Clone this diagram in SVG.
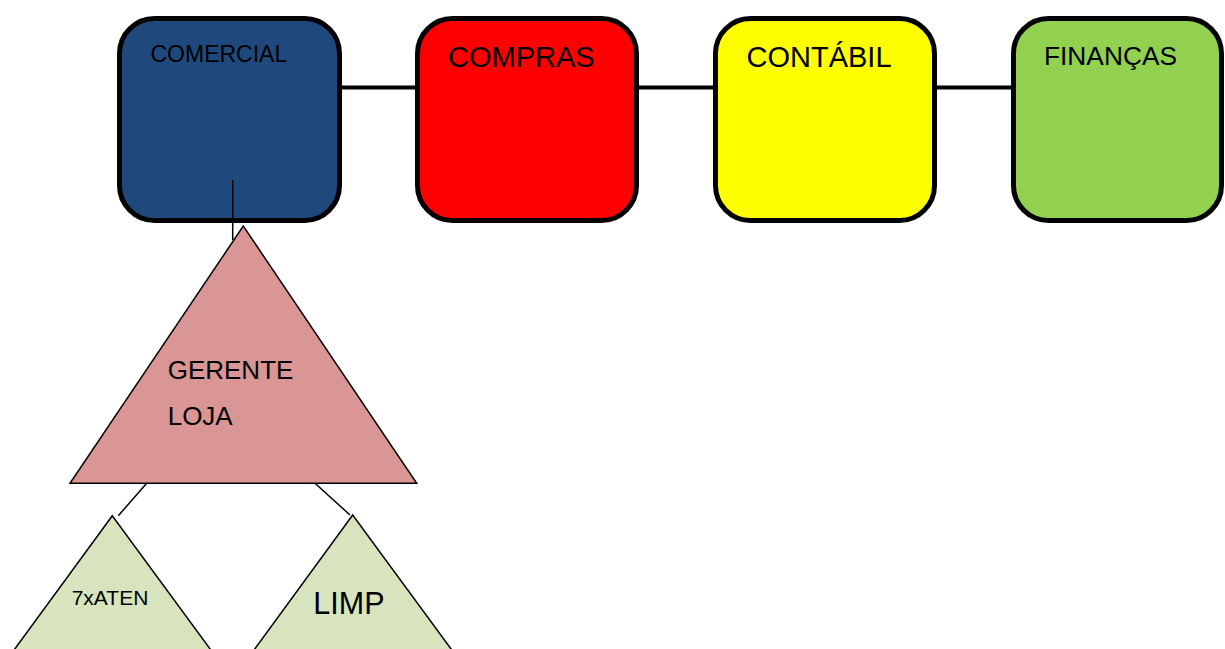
<svg xmlns="http://www.w3.org/2000/svg" width="1225" height="649" viewBox="0 0 1225 649">
<style>
.box{stroke:#000;stroke-width:5}
.tri{stroke:#000;stroke-width:1.5}
.lbl{font-family:"Liberation Sans",Arial,sans-serif;fill:#000}
.thick{stroke:#000;stroke-width:4;fill:none}
.thin{stroke:#000;stroke-width:1.5;fill:none}
</style>
<rect width="1225" height="649" fill="#fff"/>
<g id="connectors">
<line class="thick" x1="340" y1="87.5" x2="417" y2="87.5"/>
<line class="thick" x1="637" y1="87.5" x2="715" y2="87.5"/>
<line class="thick" x1="935" y1="87.5" x2="1013" y2="87.5"/>
<line class="thin" x1="146.7" y1="483.3" x2="118.3" y2="515.7"/>
<line class="thin" x1="315" y1="483.3" x2="350" y2="515"/>
</g>
<g id="comercial">
<rect class="box" x="119.5" y="18.5" width="220" height="202" rx="35" fill="#1f497d"/>
<text class="lbl" x="150.5" y="61.7" font-size="23">COMERCIAL</text>
</g>
<g id="compras">
<rect class="box" x="417.5" y="18.5" width="219" height="202" rx="35" fill="#ff0000"/>
<text class="lbl" x="448" y="66.7" font-size="29">COMPRAS</text>
</g>
<g id="contabil">
<rect class="box" x="715.5" y="18.5" width="219" height="202" rx="35" fill="#ffff00"/>
<text class="lbl" x="746.5" y="66.7" font-size="29">CONTÁBIL</text>
</g>
<g id="financas">
<rect class="box" x="1013.5" y="18.5" width="208" height="202" rx="35" fill="#92d050"/>
<text class="lbl" x="1044" y="64.5" font-size="26.3">FINANÇAS</text>
</g>
<g id="gerente-loja">
<line class="thin" x1="232.7" y1="180" x2="232.7" y2="240"/>
<polygon class="tri" points="243.3,226 70,483.3 416.7,483.3" fill="#d99694"/>
<text class="lbl" x="167.7" y="379" font-size="26">GERENTE</text>
<text class="lbl" x="167.7" y="425" font-size="26">LOJA</text>
</g>
<g id="aten">
<polygon class="tri" points="112.3,515.7 -24,702 249,702" fill="#d7e4bd"/>
<text class="lbl" x="71.7" y="605" font-size="21">7xATEN</text>
</g>
<g id="limp">
<polygon class="tri" points="352.7,515 216,702 490,702" fill="#d7e4bd"/>
<text class="lbl" x="313.3" y="614.3" font-size="30.5">LIMP</text>
</g>
</svg>
